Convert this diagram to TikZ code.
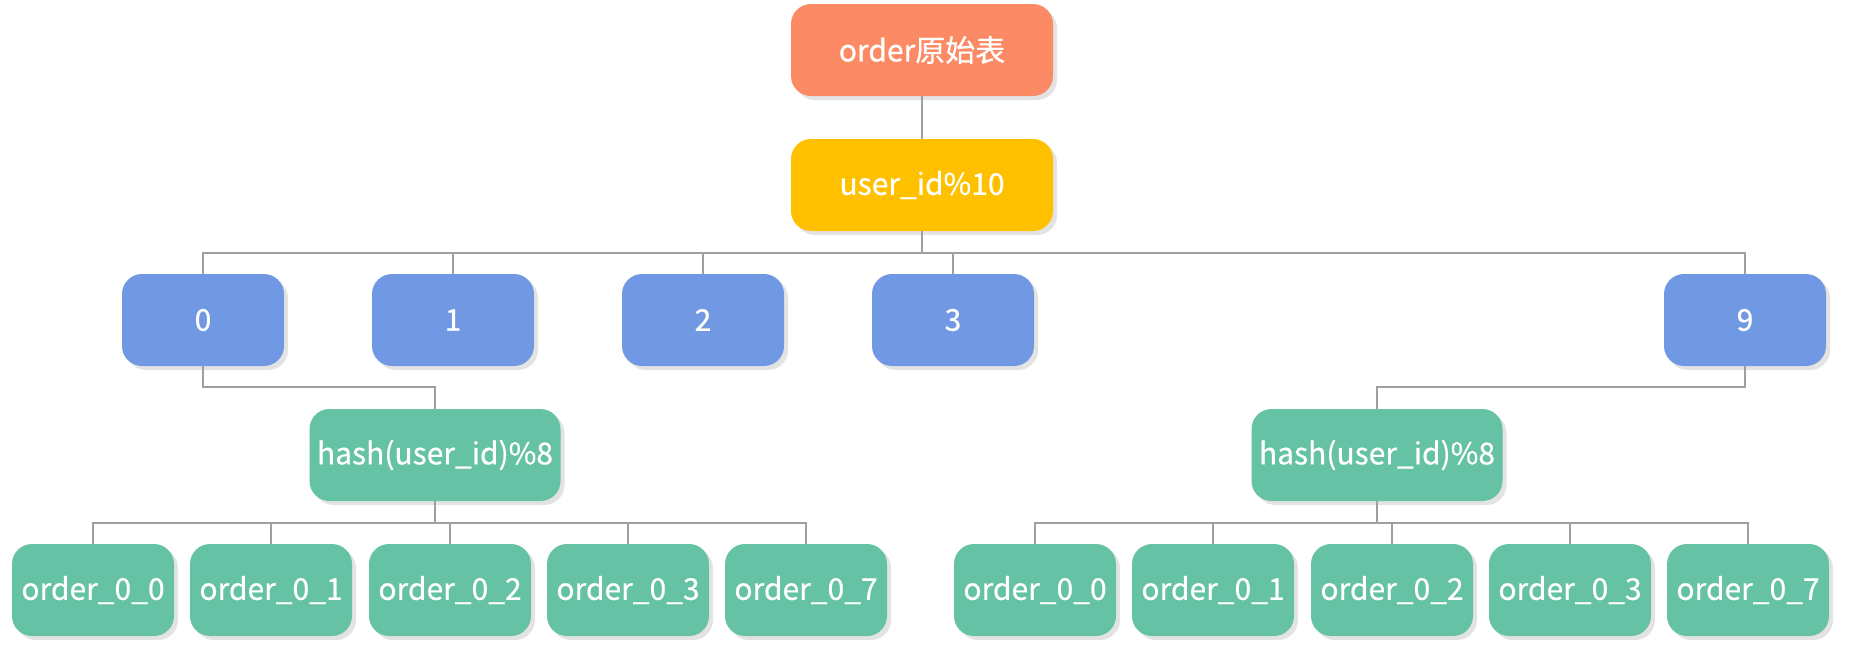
\documentclass[tikz,border=0pt]{standalone}
\usepackage{fontspec}
\setmainfont{Noto Sans CJK SC}[FakeBold=0.6]
\usetikzlibrary{shadows}
\definecolor{rootcol}{HTML}{FC8B65}
\definecolor{modcol}{HTML}{FFC000}
\definecolor{bucketcol}{HTML}{7199E3}
\definecolor{tablecol}{HTML}{66C2A5}
\tikzset{
  box/.style={rectangle, rounded corners=20pt, text=white, inner sep=0pt,
    font=\fontsize{30}{36}\selectfont,
    drop shadow={shadow xshift=4pt, shadow yshift=-4pt, opacity=0.22}},
  rootbox/.style={box, fill=rootcol, minimum width=262pt, minimum height=92pt},
  modbox/.style={box, fill=modcol, minimum width=262pt, minimum height=92pt},
  bucketbox/.style={box, fill=bucketcol, minimum width=162pt, minimum height=92pt},
  hashbox/.style={box, fill=tablecol, minimum width=251pt, minimum height=92pt},
  tablebox/.style={box, fill=tablecol, minimum width=162pt, minimum height=92pt},
  conn/.style={draw=gray!75, line width=1.2pt}
}
\begin{document}
\begin{tikzpicture}[x=1pt, y=-1pt]
    \useasboundingbox (0,0) rectangle (1849,649);

    % bus lines
    \coordinate (busA) at (0,253);
    \coordinate (busB) at (0,387);
    \coordinate (busC) at (0,523);

    \node[rootbox] (orig) at (922,50) {order原始表};
    \node[modbox] (mod) at (922,185) {user\_id\%10};

    \node[bucketbox] (b0) at (203,320) {0};
    \node[bucketbox] (b1) at (453,320) {1};
    \node[bucketbox] (b2) at (703,320) {2};
    \node[bucketbox] (b3) at (953,320) {3};
    \node[bucketbox] (b9) at (1745,320) {9};

    \node[hashbox] (hashL) at (435,455) {hash(user\_id)\%8};
    \node[hashbox] (hashR) at (1377,455) {hash(user\_id)\%8};

    \node[tablebox] (l0) at (93,590) {order\_0\_0};
    \node[tablebox] (l1) at (271,590) {order\_0\_1};
    \node[tablebox] (l2) at (450,590) {order\_0\_2};
    \node[tablebox] (l3) at (628,590) {order\_0\_3};
    \node[tablebox] (l7) at (806,590) {order\_0\_7};

    \node[tablebox] (r0) at (1035,590) {order\_0\_0};
    \node[tablebox] (r1) at (1213,590) {order\_0\_1};
    \node[tablebox] (r2) at (1392,590) {order\_0\_2};
    \node[tablebox] (r3) at (1570,590) {order\_0\_3};
    \node[tablebox] (r7) at (1748,590) {order\_0\_7};

    % connectors
    \begin{scope}[on background layer/.try]
    \draw[conn] (orig.south) -- (mod.north);
    \draw[conn] (mod.south) -- (mod.south |- busA) -| (b0.north);
    \draw[conn] (mod.south) -- (mod.south |- busA) -| (b1.north);
    \draw[conn] (mod.south) -- (mod.south |- busA) -| (b2.north);
    \draw[conn] (mod.south) -- (mod.south |- busA) -| (b3.north);
    \draw[conn] (mod.south) -- (mod.south |- busA) -| (b9.north);

    \draw[conn] (b0.south) -- (b0.south |- busB) -| (hashL.north);
    \draw[conn] (b9.south) -- (b9.south |- busB) -| (hashR.north);

    \draw[conn] (hashL.south) -- (hashL.south |- busC) -| (l0.north);
    \draw[conn] (hashL.south) -- (hashL.south |- busC) -| (l1.north);
    \draw[conn] (hashL.south) -- (hashL.south |- busC) -| (l2.north);
    \draw[conn] (hashL.south) -- (hashL.south |- busC) -| (l3.north);
    \draw[conn] (hashL.south) -- (hashL.south |- busC) -| (l7.north);

    \draw[conn] (hashR.south) -- (hashR.south |- busC) -| (r0.north);
    \draw[conn] (hashR.south) -- (hashR.south |- busC) -| (r1.north);
    \draw[conn] (hashR.south) -- (hashR.south |- busC) -| (r2.north);
    \draw[conn] (hashR.south) -- (hashR.south |- busC) -| (r3.north);
    \draw[conn] (hashR.south) -- (hashR.south |- busC) -| (r7.north);
    \end{scope}
\end{tikzpicture}
\end{document}
